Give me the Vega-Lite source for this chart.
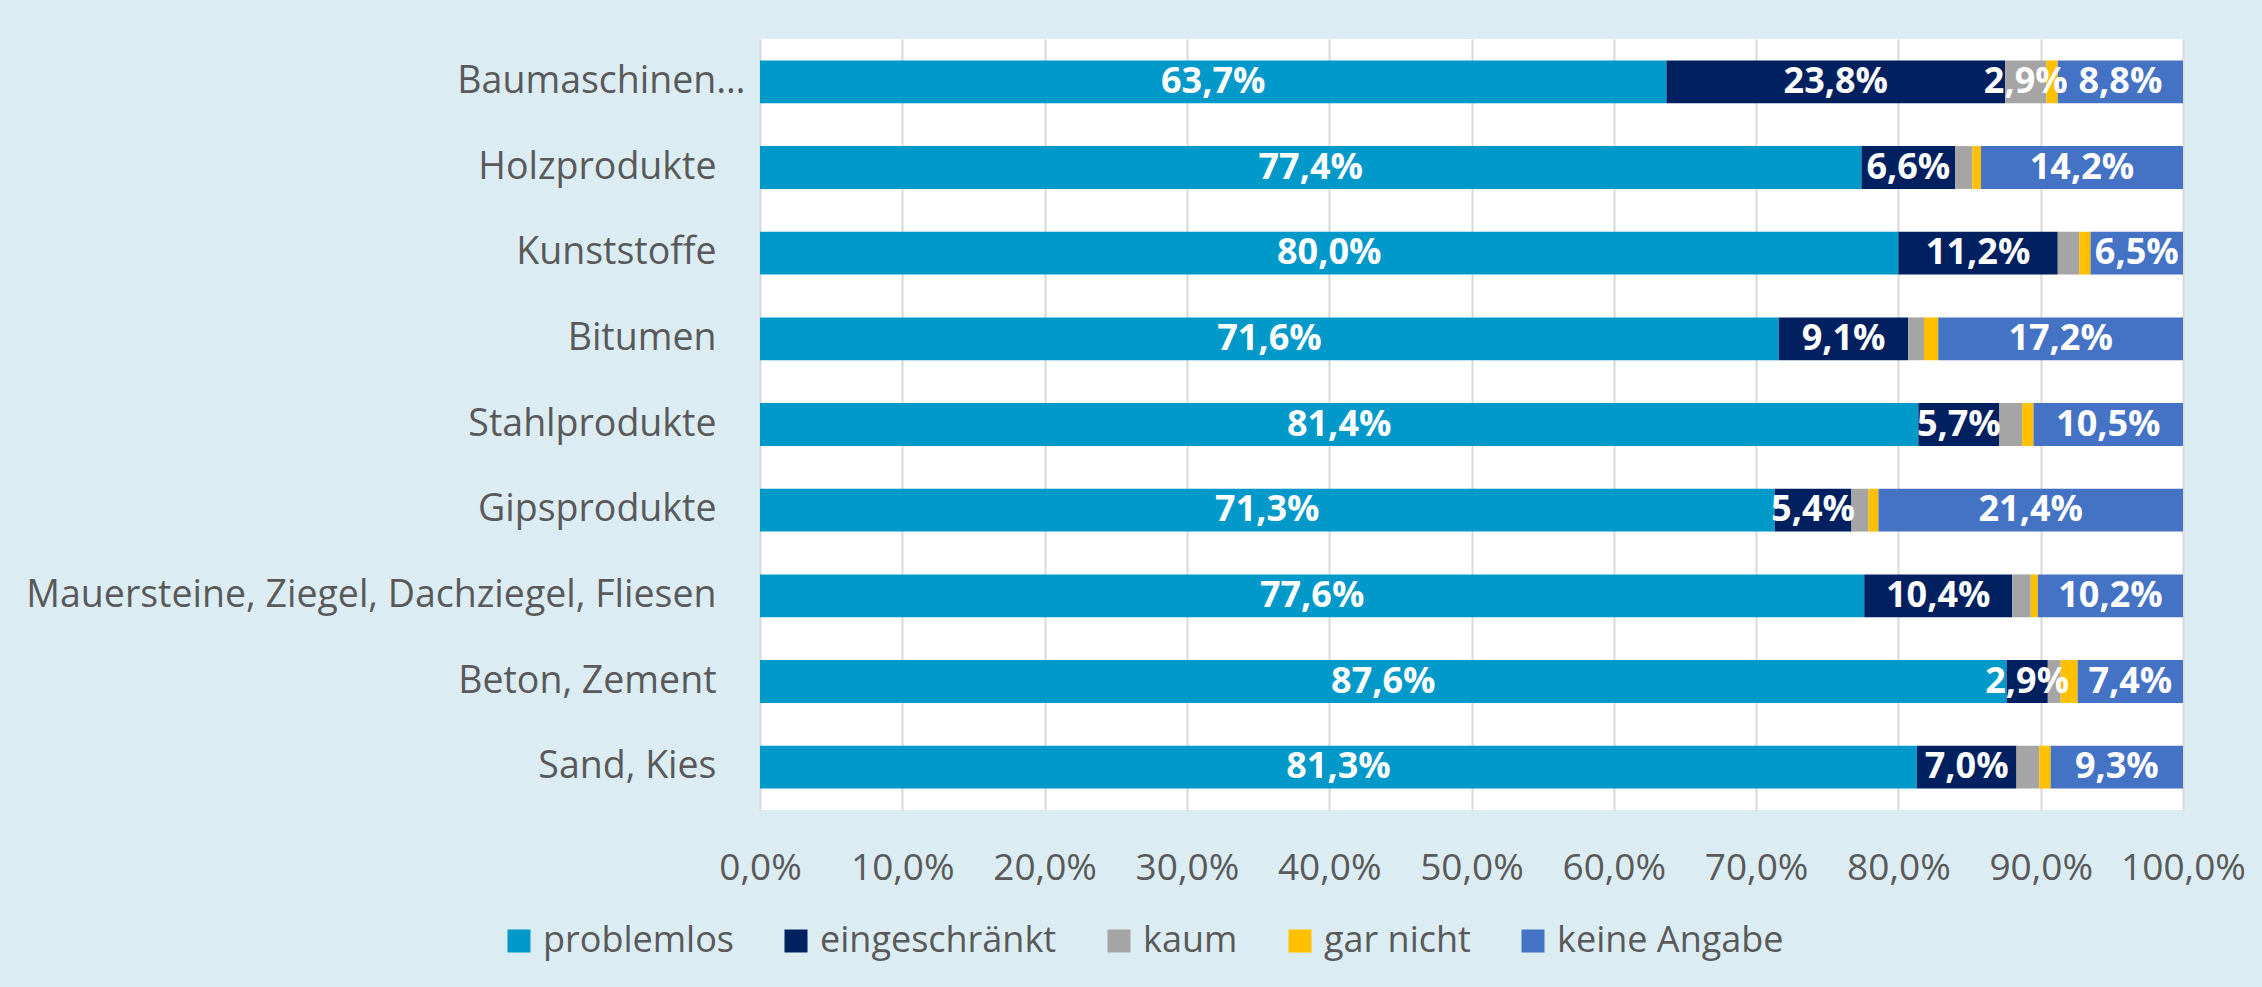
{
  "$schema": "https://vega.github.io/schema/vega-lite/v6.json",
  "autosize": {"type": "none"},
  "width": 1423,
  "height": 771,
  "padding": {"left": 760, "top": 39, "right": 79, "bottom": 177},
  "background": "#DBEDF3",
  "data": {"values": [
    {"c": "Baumaschinen…", "k": "problemlos", "v": 63.7},
    {"c": "Baumaschinen…", "k": "eingeschränkt", "v": 23.8},
    {"c": "Baumaschinen…", "k": "kaum", "v": 2.9},
    {"c": "Baumaschinen…", "k": "gar nicht", "v": 0.8},
    {"c": "Baumaschinen…", "k": "keine Angabe", "v": 8.8},
    {"c": "Holzprodukte", "k": "problemlos", "v": 77.4},
    {"c": "Holzprodukte", "k": "eingeschränkt", "v": 6.6},
    {"c": "Holzprodukte", "k": "kaum", "v": 1.2},
    {"c": "Holzprodukte", "k": "gar nicht", "v": 0.6},
    {"c": "Holzprodukte", "k": "keine Angabe", "v": 14.2},
    {"c": "Kunststoffe", "k": "problemlos", "v": 80.0},
    {"c": "Kunststoffe", "k": "eingeschränkt", "v": 11.2},
    {"c": "Kunststoffe", "k": "kaum", "v": 1.5},
    {"c": "Kunststoffe", "k": "gar nicht", "v": 0.8},
    {"c": "Kunststoffe", "k": "keine Angabe", "v": 6.5},
    {"c": "Bitumen", "k": "problemlos", "v": 71.6},
    {"c": "Bitumen", "k": "eingeschränkt", "v": 9.1},
    {"c": "Bitumen", "k": "kaum", "v": 1.1},
    {"c": "Bitumen", "k": "gar nicht", "v": 1.0},
    {"c": "Bitumen", "k": "keine Angabe", "v": 17.2},
    {"c": "Stahlprodukte", "k": "problemlos", "v": 81.4},
    {"c": "Stahlprodukte", "k": "eingeschränkt", "v": 5.7},
    {"c": "Stahlprodukte", "k": "kaum", "v": 1.6},
    {"c": "Stahlprodukte", "k": "gar nicht", "v": 0.8},
    {"c": "Stahlprodukte", "k": "keine Angabe", "v": 10.5},
    {"c": "Gipsprodukte", "k": "problemlos", "v": 71.3},
    {"c": "Gipsprodukte", "k": "eingeschränkt", "v": 5.4},
    {"c": "Gipsprodukte", "k": "kaum", "v": 1.2},
    {"c": "Gipsprodukte", "k": "gar nicht", "v": 0.7},
    {"c": "Gipsprodukte", "k": "keine Angabe", "v": 21.4},
    {"c": "Mauersteine, Ziegel, Dachziegel, Fliesen", "k": "problemlos", "v": 77.6},
    {"c": "Mauersteine, Ziegel, Dachziegel, Fliesen", "k": "eingeschränkt", "v": 10.4},
    {"c": "Mauersteine, Ziegel, Dachziegel, Fliesen", "k": "kaum", "v": 1.3},
    {"c": "Mauersteine, Ziegel, Dachziegel, Fliesen", "k": "gar nicht", "v": 0.5},
    {"c": "Mauersteine, Ziegel, Dachziegel, Fliesen", "k": "keine Angabe", "v": 10.2},
    {"c": "Beton, Zement", "k": "problemlos", "v": 87.6},
    {"c": "Beton, Zement", "k": "eingeschränkt", "v": 2.9},
    {"c": "Beton, Zement", "k": "kaum", "v": 0.9},
    {"c": "Beton, Zement", "k": "gar nicht", "v": 1.2},
    {"c": "Beton, Zement", "k": "keine Angabe", "v": 7.4},
    {"c": "Sand, Kies", "k": "problemlos", "v": 81.3},
    {"c": "Sand, Kies", "k": "eingeschränkt", "v": 7.0},
    {"c": "Sand, Kies", "k": "kaum", "v": 1.6},
    {"c": "Sand, Kies", "k": "gar nicht", "v": 0.8},
    {"c": "Sand, Kies", "k": "keine Angabe", "v": 9.3}
  ]},
  "transform": [
    {"calculate": "indexof(['problemlos','eingeschränkt','kaum','gar nicht','keine Angabe'], datum.k)", "as": "o"},
    {"stack": "v", "groupby": ["c"], "sort": [{"field": "o", "order": "ascending"}], "as": ["v0", "v1"]},
    {"calculate": "(datum.v0 + datum.v1) / 2", "as": "mid"},
    {"calculate": "replace(format(datum.v, '.1f'), '.', ',') + '%'", "as": "lab"}
  ],
  "encoding": {
    "y": {
      "field": "c", "type": "nominal", "sort": null, "title": null,
      "scale": {"paddingInner": 0.5, "paddingOuter": 0.25},
      "axis": {
        "domain": false, "ticks": false, "labelFont": "Open Sans", "labelFontSize": 37.5,
        "labelColor": "#595959", "labelLimit": 800,
        "labelPadding": {"condition": {"test": "datum.value == 'Baumaschinen…'", "value": 15}, "value": 44}
      }
    }
  },
  "layer": [
    {
      "mark": {"type": "bar"},
      "encoding": {
        "x": {
          "field": "v0", "type": "quantitative", "title": null,
          "scale": {"domain": [0, 100], "nice": false},
          "axis": {
            "values": [0, 10, 20, 30, 40, 50, 60, 70, 80, 90, 100],
            "labelExpr": "replace(format(datum.value, '.1f'), '.', ',') + '%'",
            "domain": false, "ticks": false, "grid": true, "gridColor": "#D9D9D9", "gridWidth": 2,
            "labelFont": "Open Sans", "labelFontSize": 37, "labelColor": "#595959",
            "labelPadding": 40, "labelFlush": false, "labelOverlap": false, "labelBound": false
          }
        },
        "x2": {"field": "v1"},
        "color": {
          "field": "k", "type": "nominal", "title": null,
          "scale": {
            "domain": ["problemlos", "eingeschränkt", "kaum", "gar nicht", "keine Angabe"],
            "range": ["#0099C9", "#002060", "#A5A5A5", "#FFC000", "#4472C4"]
          },
          "legend": {
            "orient": "none", "direction": "horizontal", "legendX": -259, "legendY": 884,
            "symbolType": "square", "symbolSize": 529, "symbolStrokeWidth": 0,
            "labelFont": "Open Sans", "labelFontSize": 36, "labelColor": "#595959",
            "labelOffset": 6, "columnPadding": 44, "labelLimit": 400
          }
        }
      }
    },
    {
      "transform": [{"filter": "datum.v >= 2.5"}],
      "mark": {"type": "text", "font": "Open Sans", "fontWeight": "bold", "fontSize": 36, "color": "white", "align": "center", "baseline": "middle"},
      "encoding": {
        "x": {"field": "mid", "type": "quantitative"},
        "text": {"field": "lab"}
      }
    }
  ],
  "config": {
    "view": {"fill": "white", "stroke": null}
  }
}
